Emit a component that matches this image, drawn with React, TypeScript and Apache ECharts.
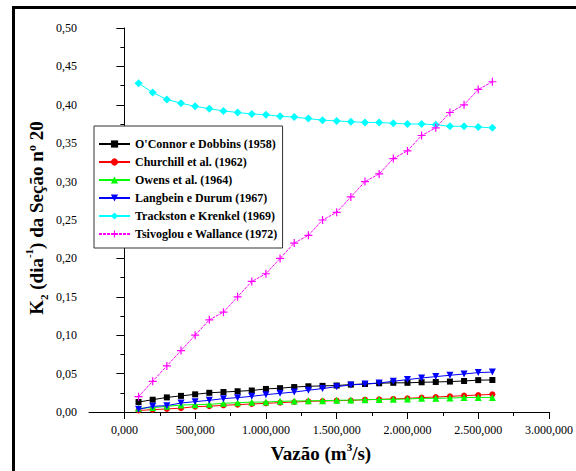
import React, { useEffect, useRef } from "react";
import * as echarts from "echarts";

const flow = [100, 200, 300, 400, 500, 600, 700, 800, 900, 1000, 1100, 1200, 1300, 1400, 1500, 1600, 1700, 1800, 1900, 2000, 2100, 2200, 2300, 2400, 2500, 2600];

const oconnor = [0.013, 0.016, 0.019, 0.021, 0.023, 0.025, 0.026, 0.027, 0.028, 0.030, 0.031, 0.0325, 0.0335, 0.034, 0.0345, 0.0357, 0.0365, 0.0374, 0.038, 0.038, 0.0387, 0.0391, 0.0396, 0.0404, 0.0415, 0.0417];
const churchill = [0.002, 0.003, 0.004, 0.005, 0.007, 0.0075, 0.0087, 0.0096, 0.0104, 0.0113, 0.0122, 0.013, 0.0139, 0.0143, 0.0148, 0.015, 0.016, 0.0165, 0.017, 0.0178, 0.0187, 0.0195, 0.0204, 0.0213, 0.0221, 0.023];
const owens = [0.0048, 0.0057, 0.0074, 0.009, 0.0096, 0.010, 0.0113, 0.0122, 0.0128, 0.013, 0.0139, 0.0143, 0.0145, 0.0148, 0.0152, 0.0155, 0.016, 0.0163, 0.0165, 0.0169, 0.0178, 0.0178, 0.0182, 0.0188, 0.019, 0.019];
const langbein = [0.0035, 0.0074, 0.0083, 0.0117, 0.0135, 0.0152, 0.0174, 0.0187, 0.0204, 0.0226, 0.0243, 0.026, 0.0283, 0.0305, 0.033, 0.0352, 0.0365, 0.0378, 0.040, 0.0422, 0.0443, 0.0461, 0.0478, 0.0495, 0.0513, 0.052];
const trackston = [0.428, 0.416, 0.407, 0.402, 0.398, 0.395, 0.392, 0.390, 0.388, 0.387, 0.385, 0.384, 0.382, 0.380, 0.379, 0.378, 0.377, 0.377, 0.376, 0.375, 0.375, 0.374, 0.372, 0.372, 0.371, 0.370];
const tsivoglou = [0.02, 0.04, 0.06, 0.08, 0.10, 0.12, 0.13, 0.15, 0.17, 0.18, 0.20, 0.22, 0.23, 0.25, 0.26, 0.28, 0.30, 0.31, 0.33, 0.34, 0.36, 0.37, 0.39, 0.40, 0.42, 0.43];

const seriesNames = [
  "O'Connor e Dobbins (1958)",
  "Churchill et al. (1962)",
  "Owens et al. (1964)",
  "Langbein e Durum (1967)",
  "Trackston e Krenkel (1969)",
  "Tsivoglou e Wallance (1972)",
];
const seriesColors = ["#000000", "#ff0000", "#00ff00", "#0000ff", "#00ffff", "#ff00ff"];

const xMajorTicks = [0, 500, 1000, 1500, 2000, 2500, 3000];
const xMinorTicks = [250, 750, 1250, 1750, 2250, 2750];

const SERIF = "Liberation Serif";
const PLUS = "path://M8.5,0 L11.5,0 L11.5,8.5 L20,8.5 L20,11.5 L11.5,11.5 L11.5,20 L8.5,20 L8.5,11.5 L0,11.5 L0,8.5 L8.5,8.5 Z";

function fmtX(v: number): string {
  const n = Math.round(v);
  const s = String(n).replace(/\B(?=(\d{3})+(?!\d))/g, ".");
  return s + ",000";
}

export default function App() {
  const ref = useRef<HTMLDivElement>(null);
  useEffect(() => {
    if (!ref.current) return;
    const chart = echarts.init(ref.current, null, { renderer: "svg" });
    const allData = [oconnor, churchill, owens, langbein, trackston, tsivoglou];
    const symbols = ["rect", "circle", "triangle", "triangle", "diamond", PLUS];
    const sizes = [6, 6, 7, 7, 8, 8];
    const rotates = [0, 0, 0, 180, 0, 0];
    const series = allData.map((d, i) => ({
      name: seriesNames[i],
      type: "line",
      xAxisIndex: 0,
      yAxisIndex: 0,
      data: flow.map((x, j) => [x, d[j]]),
      symbol: symbols[i],
      symbolSize: sizes[i],
      symbolRotate: rotates[i],
      showSymbol: true,
      color: seriesColors[i],
      itemStyle: { color: seriesColors[i], borderWidth: 0 },
      lineStyle: { color: seriesColors[i], width: 1, type: i === 5 ? [3, 1] : "solid" },
      emphasis: { disabled: true },
      z: 2 + i,
    }));
    const option: any = {
      animation: false,
      backgroundColor: "#ffffff",
      textStyle: { fontFamily: SERIF },
      grid: { left: 89, right: 22, top: 28, bottom: 59, containLabel: false },
      xAxis: [
        {
          type: "value",
          min: -250,
          max: 3000,
          position: "bottom",
          axisLine: { show: true, lineStyle: { color: "#000", width: 1 } },
          axisTick: { show: true, customValues: xMajorTicks, length: 7, lineStyle: { color: "#000", width: 1 } },
          axisLabel: {
            show: true,
            customValues: xMajorTicks,
            formatter: (v: number) => fmtX(v),
            margin: 12,
            fontFamily: SERIF,
            fontSize: 12,
            color: "#000",
          },
          splitLine: { show: false },
        },
        {
          type: "value",
          min: -250,
          max: 3000,
          position: "bottom",
          axisLine: { show: false },
          axisTick: { show: true, customValues: xMinorTicks, length: 4, lineStyle: { color: "#000", width: 1 } },
          axisLabel: { show: false },
          splitLine: { show: false },
        },
      ],
      yAxis: {
        type: "value",
        min: 0,
        max: 0.5,
        interval: 0.05,
        axisLine: { show: true, lineStyle: { color: "#000", width: 1 } },
        axisTick: { show: true, length: 8, lineStyle: { color: "#000", width: 1 } },
        minorTick: { show: true, splitNumber: 2, length: 4, lineStyle: { color: "#000", width: 1 } },
        axisLabel: {
          formatter: (v: number) => v.toFixed(2).replace(".", ","),
          margin: 12,
          fontFamily: SERIF,
          fontSize: 12,
          color: "#000",
        },
        splitLine: { show: false },
        minorSplitLine: { show: false },
      },
      legend: {
        data: seriesNames,
        orient: "vertical",
        left: 94,
        top: 126,
        padding: [12, 5, 8, 4],
        itemGap: 6,
        itemWidth: 31,
        itemHeight: 9,
        borderColor: "#333",
        borderWidth: 1,
        backgroundColor: "#fff",
        selectedMode: false,
        textStyle: { fontFamily: SERIF, fontWeight: "bold", fontSize: 12, color: "#000" },
      },
      graphic: [
        { type: "rect", shape: { x: 12, y: 6, width: 564, height: 3 }, style: { fill: "#000" }, silent: true },
        { type: "rect", shape: { x: 12, y: 6, width: 3, height: 465 }, style: { fill: "#000" }, silent: true },
        {
          type: "text",
          x: 36,
          y: 218,
          rotation: Math.PI / 2,
          silent: true,
          style: {
            text: "{m|K}{sub|2}{m| (dia}{sup|-1}{m|) da Seção nº 20}",
            align: "center",
            verticalAlign: "middle",
            rich: {
              m: { fontFamily: SERIF, fontWeight: "bold", fontSize: 19, color: "#000", lineHeight: 26, verticalAlign: "middle" },
              sub: { fontFamily: SERIF, fontWeight: "bold", fontSize: 11, color: "#000", lineHeight: 26, verticalAlign: "bottom" },
              sup: { fontFamily: SERIF, fontWeight: "bold", fontSize: 11, color: "#000", lineHeight: 26, verticalAlign: "top" },
            },
          },
        },
        {
          type: "text",
          x: 321,
          y: 453,
          silent: true,
          style: {
            text: "{m|Vazão (m}{sup|3}{m|/s)}",
            align: "center",
            verticalAlign: "middle",
            rich: {
              m: { fontFamily: SERIF, fontWeight: "bold", fontSize: 19, color: "#000", lineHeight: 24, verticalAlign: "middle" },
              sup: { fontFamily: SERIF, fontWeight: "bold", fontSize: 11, color: "#000", lineHeight: 24, verticalAlign: "top" },
            },
          },
        },
      ],
      series,
    };
    chart.setOption(option);
    return () => chart.dispose();
  }, []);
  return <div ref={ref} style={{ position: "absolute", left: 0, top: 0, width: 576, height: 471 }} />;
}
